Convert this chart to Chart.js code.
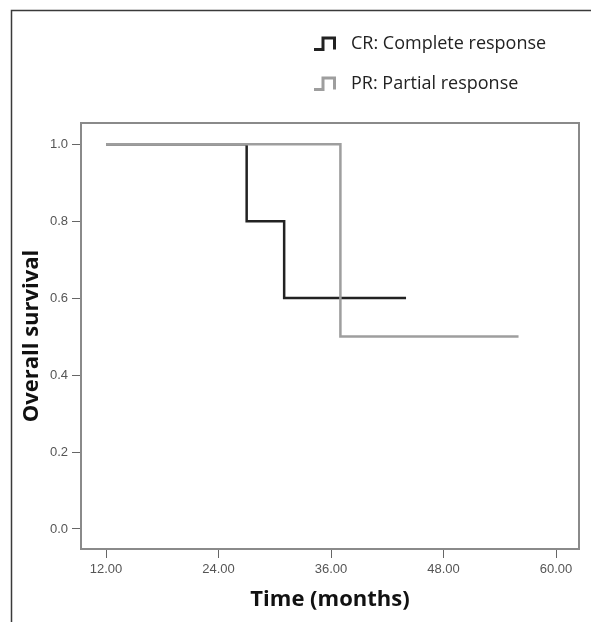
<!DOCTYPE html>
<html>
<head>
<meta charset="utf-8">
<script src="https://cdn.jsdelivr.net/npm/chart.js@4/dist/chart.umd.min.js"></script>
<style>
  html, body { margin: 0; padding: 0; background: #fff; }
  #wrap { width: 591px; height: 622px; position: relative; }
</style>
</head>
<body>
<div id="wrap"><canvas id="c" width="591" height="622"></canvas></div>
<script>
// ---- data ----
const seriesLabels = ['CR: Complete response', 'PR: Partial response'];
const crTimes = [12, 27, 31, 44];
const crSurvival = [1.0, 0.8, 0.6, 0.6];
const prTimes = [12, 37, 56];
const prSurvival = [1.0, 0.5, 0.5];
const xTicks = [12, 24, 36, 48, 60];
const yTicks = [0.0, 0.2, 0.4, 0.6, 0.8, 1.0];
const xTitle = 'Time (months)';
const yTitle = 'Overall survival';

const crColor = '#222222';
const prColor = '#9e9e9e';

function toPoints(xs, ys) { return xs.map((x, i) => ({ x: x, y: ys[i] })); }

const framePlugin = {
  id: 'frame',
  beforeDraw(chart) {
    const ctx = chart.ctx;
    ctx.save();
    ctx.fillStyle = '#fff';
    ctx.fillRect(0, 0, chart.width, chart.height);
    // outer figure frame (left and top visible)
    ctx.strokeStyle = '#3a3a3a';
    ctx.lineWidth = 1.5;
    ctx.beginPath();
    ctx.moveTo(11.5, chart.height + 2);
    ctx.lineTo(11.5, 10.5);
    ctx.lineTo(chart.width + 2, 10.5);
    ctx.stroke();
    ctx.restore();
  },
  afterDraw(chart) {
    const ctx = chart.ctx;
    const a = chart.chartArea;
    ctx.save();
    ctx.strokeStyle = '#8a8a8a';
    ctx.lineWidth = 2;
    ctx.strokeRect(a.left, a.top, a.right - a.left, a.bottom - a.top);
    // legend
    const items = [chart.data.datasets[1], chart.data.datasets[0]];
    const ys = [44, 84];
    ctx.font = '18px "Open Sans"';
    ctx.textBaseline = 'middle';
    ctx.textAlign = 'left';
    items.forEach((ds, i) => {
      const cy = ys[i];
      ctx.strokeStyle = ds.borderColor;
      ctx.lineWidth = 3;
      ctx.lineJoin = 'miter';
      ctx.beginPath();
      ctx.moveTo(314, cy + 5.5);
      ctx.lineTo(323, cy + 5.5);
      ctx.lineTo(323, cy - 6);
      ctx.lineTo(334.5, cy - 6);
      ctx.lineTo(334.5, cy + 5.5);
      ctx.stroke();
      ctx.fillStyle = '#222';
      ctx.fillText(ds.label, 351, cy);
    });
    ctx.restore();
  }
};

new Chart(document.getElementById('c'), {
  type: 'line',
  data: {
    datasets: [
      {
        label: seriesLabels[1],
        data: toPoints(prTimes, prSurvival),
        borderColor: prColor,
        borderWidth: 2.5,
        stepped: 'before',
        pointRadius: 0,
        fill: false,
        order: 0
      },
      {
        label: seriesLabels[0],
        data: toPoints(crTimes, crSurvival),
        borderColor: crColor,
        borderWidth: 2.5,
        stepped: 'before',
        pointRadius: 0,
        fill: false,
        order: 1
      }
    ]
  },
  options: {
    responsive: false,
    animation: false,
    devicePixelRatio: 1,
    layout: { padding: { left: 0, top: 123, right: 12, bottom: 0 } },
    plugins: { legend: { display: false }, tooltip: { enabled: false } },
    scales: {
      x: {
        type: 'linear',
        min: 9.33,
        max: 62.45,
        afterBuildTicks: s => { s.ticks = xTicks.map(v => ({ value: v })); },
        afterFit: s => { s.height = 73; },
        border: { display: false },
        grid: { drawOnChartArea: false, drawTicks: true, tickLength: 9, color: '#666', lineWidth: 1 },
        ticks: {
          padding: 4,
          color: '#555',
          font: { family: '"Liberation Sans", Arial, sans-serif', size: 13 },
          callback: v => Number(v).toFixed(2),
          maxRotation: 0
        },
        title: {
          display: true,
          text: xTitle,
          color: '#111',
          font: { family: '"Open Sans", sans-serif', size: 22, weight: 'bold' },
          padding: { top: 0, bottom: 9 }
        }
      },
      y: {
        type: 'linear',
        min: -0.052,
        max: 1.055,
        afterBuildTicks: s => { s.ticks = yTicks.map(v => ({ value: v })); },
        afterFit: s => { s.width = 81; },
        border: { display: false },
        grid: { drawOnChartArea: false, drawTicks: true, tickLength: 9, color: '#666', lineWidth: 1 },
        ticks: {
          padding: 4,
          color: '#555',
          font: { family: '"Liberation Sans", Arial, sans-serif', size: 13 },
          callback: v => Number(v).toFixed(1)
        },
        title: {
          display: true,
          text: yTitle,
          color: '#111',
          font: { family: '"Open Sans", sans-serif', size: 22, weight: 'bold' },
          padding: { top: 19, bottom: 0 }
        }
      }
    }
  },
  plugins: [framePlugin]
});
</script>
</body>
</html>
